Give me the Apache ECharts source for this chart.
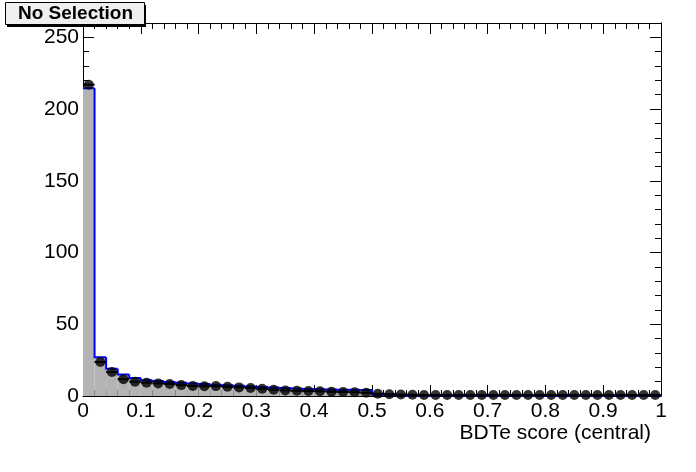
<!DOCTYPE html>
<html>
<head>
<meta charset="utf-8">
<script src="https://cdn.jsdelivr.net/npm/echarts@6/dist/echarts.min.js"></script>
<style>html,body{margin:0;padding:0;background:#fff}#c{width:696px;height:472px}</style>
</head>
<body>
<div id="c"></div>
<script>
// Bin edges of the BDTe score histogram (50 bins, 0..1)
const binEdges = [0,0.02,0.04,0.06,0.08,0.1,0.12,0.14,0.16,0.18,0.2,0.22,0.24,0.26,0.28,0.3,0.32,0.34,0.36,0.38,0.4,0.42,0.44,0.46,0.48,0.5,0.52,0.54,0.56,0.58,0.6,0.62,0.64,0.66,0.68,0.7,0.72,0.74,0.76,0.78,0.8,0.82,0.84,0.86,0.88,0.9,0.92,0.94,0.96,0.98,1];
// Simulated (filled grey, blue outline)
const mcValues = [214.5,27,19,15,12.5,11,10.5,9.8,9.3,8.8,8.3,7.9,7.5,7.1,6.7,6.3,5.9,5.5,5.2,4.9,4.7,4.5,4.4,4.3,4.2,0.9,0.8,0.7,0.2,0.2,0.2,0.2,0.2,0.2,0.2,0.2,0.2,0.2,0.2,0.2,0.2,0.2,0.2,0.2,0.2,0.2,0.2,0.2,0.2,0.2];
// Data points (black markers)
const dataValues = [217,23.7,16.7,11.7,10.0,9.3,8.8,8.4,7.6,7.0,6.8,6.9,6.4,6.0,5.6,5.0,4.4,3.9,3.6,3.5,3.3,3.0,2.8,2.6,2.3,1.6,1.2,1.0,0.9,0.7,0.7,0.7,0.7,0.7,0.7,0.7,0.7,0.7,0.7,0.7,0.7,0.7,0.7,0.7,0.7,0.7,0.7,0.7,0.7,0.7];
const xTickLabels = ['0','0.1','0.2','0.3','0.4','0.5','0.6','0.7','0.8','0.9','1'];
const yTickLabels = ['0','50','100','150','200','250'];
const xTitle = 'BDTe score (central)';
const boxTitle = 'No Selection';

const FONT = '"Liberation Sans", Arial, Helvetica, sans-serif';
const chart = echarts.init(document.getElementById('c'), null, {renderer: 'canvas'});

const histData = mcValues.map((v, i) => [binEdges[i], binEdges[i+1], v, i > 0 ? mcValues[i-1] : v]);
const ptData = dataValues.map((v, i) => [(binEdges[i] + binEdges[i+1]) / 2, v, binEdges[i], binEdges[i+1]]);

function xLab(v) {
  const idx = Math.round(v * 10);
  if (Math.abs(v * 10 - idx) > 1e-6) return '';
  return xTickLabels[idx] || '';
}
function yLab(v) {
  if (v % 50 !== 0) return '';
  return yTickLabels[v / 50] || '';
}
const lineStyle = {color: '#000', width: 1};

function xAxisDef(pos, labels) {
  return {
    type: 'value', position: pos, min: 0, max: 1, interval: 0.1,
    axisLine: {show: true, onZero: false, lineStyle},
    axisTick: {show: true, inside: true, length: 11, lineStyle},
    minorTick: {show: true, splitNumber: 5, length: 6, lineStyle},
    splitLine: {show: false}, minorSplitLine: {show: false},
    axisLabel: labels ? {show: true, formatter: xLab, color: '#000', fontSize: 21, fontFamily: FONT, margin: 5,
                          showMinLabel: true, showMaxLabel: true} : {show: false}
  };
}
function yAxisDef(pos, interval, len, labels) {
  return {
    type: 'value', position: pos, min: 0, max: 260, interval: interval,
    axisLine: {show: true, onZero: false, lineStyle},
    axisTick: {show: true, inside: true, length: len, lineStyle},
    splitLine: {show: false},
    axisLabel: labels ? {show: true, formatter: yLab, color: '#000', fontSize: 21, fontFamily: FONT, margin: 4} : {show: false}
  };
}

const option = {
  animation: false,
  backgroundColor: '#fff',
  grid: {left: 83, right: 35, top: 23, bottom: 76, containLabel: false},
  xAxis: [xAxisDef('bottom', true), xAxisDef('top', false)],
  yAxis: [
    yAxisDef('left', 50, 11, true),
    yAxisDef('left', 10, 6, false),
    yAxisDef('right', 50, 11, false),
    yAxisDef('right', 10, 6, false)
  ],
  series: [
    {
      type: 'custom', name: 'fill', xAxisIndex: 0, yAxisIndex: 0,
      data: histData, encode: {x: [0, 1], y: 2}, z: 1,
      renderItem: function (params, api) {
        const p0 = api.coord([api.value(0), 0]);
        const p1 = api.coord([api.value(1), api.value(2)]);
        return {type: 'rect', shape: {x: p0[0], y: p1[1], width: p1[0] - p0[0], height: p0[1] - p1[1]},
                style: {fill: '#b3b3b3'}};
      }
    },
    {
      type: 'custom', name: 'outline', xAxisIndex: 0, yAxisIndex: 0,
      data: histData, encode: {x: [0, 1], y: 2}, z: 2,
      renderItem: function (params, api) {
        const a = api.coord([api.value(0), api.value(3)]);
        const b = api.coord([api.value(0), api.value(2)]);
        const c = api.coord([api.value(1), api.value(2)]);
        return {type: 'polyline', shape: {points: [a, b, c]},
                style: {stroke: '#0000ff', lineWidth: 2, fill: null}};
      }
    },
    {
      type: 'custom', name: 'xerr', xAxisIndex: 0, yAxisIndex: 0,
      data: ptData, encode: {x: [2, 3], y: 1}, z: 3, clip: false,
      renderItem: function (params, api) {
        const a = api.coord([api.value(2), api.value(1)]);
        const b = api.coord([api.value(3), api.value(1)]);
        return {type: 'line', shape: {x1: a[0], y1: a[1], x2: b[0], y2: b[1]},
                style: {stroke: '#000', lineWidth: 2}};
      }
    },
    {
      type: 'scatter', name: 'data', xAxisIndex: 0, yAxisIndex: 0,
      data: ptData.map(d => [d[0], d[1]]), symbol: 'circle', symbolSize: 10, clip: false, z: 4,
      itemStyle: {color: '#000'}
    }
  ],
  graphic: [
    {type: 'rect', left: 7, top: 5, shape: {width: 139, height: 22}, style: {fill: '#000'}, z: 10},
    {type: 'rect', left: 5, top: 2, shape: {width: 139, height: 22}, style: {fill: '#efefef', stroke: '#000', lineWidth: 1}, z: 11},
    {type: 'text', left: 18, top: 4, style: {text: boxTitle, font: 'bold 19px ' + FONT, fill: '#000'}, z: 12},
    {type: 'text', right: 45, top: 423, style: {text: xTitle, font: '21px ' + FONT, fill: '#000'}, z: 12}
  ]
};
chart.setOption(option);
</script>
</body>
</html>
